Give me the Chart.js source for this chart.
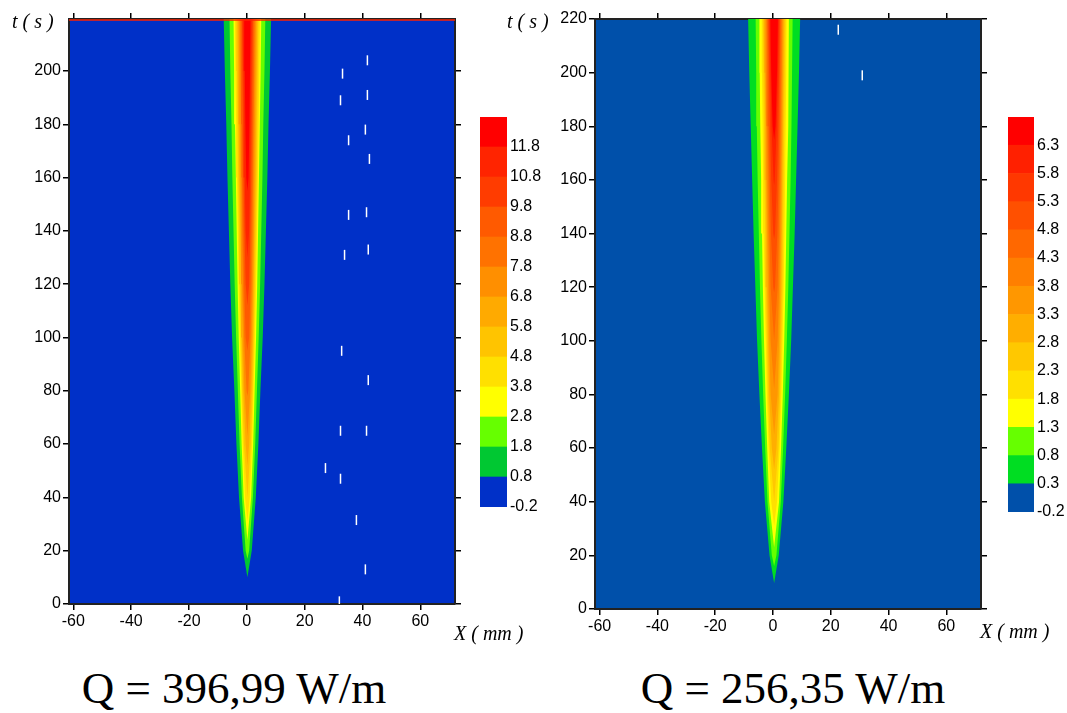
<!DOCTYPE html>
<html>
<head>
<meta charset="utf-8">
<script src="https://cdn.jsdelivr.net/npm/chart.js@4.4.0/dist/chart.umd.min.js"></script>
<style>
  body { margin: 0; background: #fff; }
  #page { position: relative; width: 1067px; height: 713px; overflow: hidden; }
  canvas { position: absolute; }
  .axis-title { position: absolute; font-family: "Liberation Serif", serif; font-style: italic; font-size: 20px; line-height: 20px; white-space: pre; color: #000; }
  .q-label { position: absolute; width: 400px; text-align: center; font-family: "Liberation Serif", serif; font-size: 45px; line-height: 45px; color: #000; white-space: pre; }
</style>
</head>
<body>
<div id="page">
  <canvas id="plotLeft" width="475" height="640" style="left:0;top:0"></canvas>
  <canvas id="barLeft" width="75" height="420" style="left:475px;top:100px"></canvas>
  <canvas id="plotRight" width="476" height="645" style="left:525px;top:0"></canvas>
  <canvas id="barRight" width="64" height="425" style="left:1003px;top:100px"></canvas>

  <div class="axis-title" style="left:12px;top:11px">t ( s )</div>
  <div class="axis-title" style="left:507px;top:11px">t ( s )</div>
  <div class="axis-title" style="left:454px;top:623px">X ( mm )</div>
  <div class="axis-title" style="left:980px;top:621px">X ( mm )</div>

  <div class="q-label" style="left:34px;top:666px">Q = 396,99 W/m</div>
  <div class="q-label" style="left:593px;top:666px">Q = 256,35 W/m</div>
</div>
<script>
// sample times (s) at which contour half-widths were read
const times = [20, 40, 60, 80, 100, 120, 140, 160, 180, 200, 220];
const xTicks = [-60, -40, -20, 0, 20, 40, 60];
const yTicksLeft = [0, 20, 40, 60, 80, 100, 120, 140, 160, 180, 200];
const yTicksRight = [0, 20, 40, 60, 80, 100, 120, 140, 160, 180, 200, 220];

// Q = 396,99 W/m
const levelsLeft = [-0.2, 0.8, 1.8, 2.8, 3.8, 4.8, 5.8, 6.8, 7.8, 8.8, 9.8, 10.8, 11.8, 12.8];
const tipsLeft = [10, 17, 24, 31, 40, 52, 63, 78, 95, 112, 130, 155];
const widthsLeft = [
  [1.5, 2.9, 3.8, 4.5, 5.3, 5.9, 6.4, 6.9, 7.3, 7.8, 8.2],
  [0.6, 1.9, 2.7, 3.3, 3.9, 4.4, 4.8, 5.2, 5.5, 5.9, 6.2],
  [null, 1.3, 2.0, 2.5, 3.0, 3.4, 3.7, 4.0, 4.3, 4.6, 4.8],
  [null, 0.8, 1.6, 2.1, 2.6, 3.0, 3.3, 3.6, 3.9, 4.1, 4.3],
  [null, null, 1.2, 1.8, 2.2, 2.6, 2.9, 3.2, 3.4, 3.6, 3.8],
  [null, null, 0.6, 1.4, 1.9, 2.2, 2.5, 2.8, 3.0, 3.2, 3.4],
  [null, null, null, 1.0, 1.5, 1.9, 2.2, 2.4, 2.6, 2.8, 3.0],
  [null, null, null, 0.3, 1.1, 1.5, 1.8, 2.0, 2.2, 2.4, 2.6],
  [null, null, null, null, 0.6, 1.1, 1.4, 1.7, 1.9, 2.1, 2.2],
  [null, null, null, null, null, 0.6, 1.0, 1.3, 1.5, 1.7, 1.9],
  [null, null, null, null, null, null, 0.6, 0.9, 1.1, 1.3, 1.5],
  [null, null, null, null, null, null, null, 0.4, 0.7, 0.9, 1.1]
];
const centerLeft = 0.2;
const specksLeft = [
  [33.1, 199], [32.4, 189], [41.7, 204], [41.7, 191], [41.0, 178], [35.2, 174],
  [42.4, 167], [35.2, 146], [41.4, 147], [42.0, 133], [33.8, 131], [32.8, 95],
  [42.0, 84], [32.4, 65], [41.4, 65], [27.2, 51], [32.4, 47], [37.9, 31.5],
  [41.0, 13], [32.0, 1]
];

// Q = 256,35 W/m
const levelsRight = [-0.2, 0.3, 0.8, 1.3, 1.8, 2.3, 2.8, 3.3, 3.8, 4.3, 4.8, 5.3, 5.8, 6.3, 6.8];
const tipsRight = [9.7, 16, 23, 31, 40, 52, 65, 82, 100, 118, 138, 158, 175];
const widthsRight = [
  [1.6, 3.2, 4.2, 5.1, 5.9, 6.5, 7.1, 7.6, 8.1, 8.6, 9.0],
  [0.8, 2.3, 3.1, 3.8, 4.4, 4.9, 5.3, 5.7, 6.0, 6.2, 6.4],
  [null, 1.7, 2.4, 3.0, 3.5, 3.9, 4.2, 4.5, 4.8, 5.0, 5.1],
  [null, 1.0, 1.9, 2.5, 2.9, 3.3, 3.6, 3.8, 4.0, 4.2, 4.3],
  [null, null, 1.5, 2.1, 2.5, 2.9, 3.1, 3.3, 3.5, 3.7, 3.9],
  [null, null, 0.8, 1.7, 2.1, 2.5, 2.7, 2.9, 3.1, 3.3, 3.5],
  [null, null, null, 1.2, 1.7, 2.1, 2.4, 2.6, 2.8, 3.0, 3.1],
  [null, null, null, null, 1.2, 1.7, 2.0, 2.3, 2.5, 2.7, 2.8],
  [null, null, null, null, null, 1.2, 1.6, 1.9, 2.2, 2.4, 2.5],
  [null, null, null, null, null, 0.3, 1.1, 1.5, 1.8, 2.0, 2.2],
  [null, null, null, null, null, null, 0.3, 1.0, 1.4, 1.7, 1.9],
  [null, null, null, null, null, null, null, 0.2, 0.9, 1.3, 1.6],
  [null, null, null, null, null, null, null, null, 0.5, 1.0, 1.3]
];
const centerRight = 0.4;
const specksRight = [[22.6, 216], [30.9, 199]];

const paletteLeft = ['#0030c8', '#00c832', '#66ff00', '#ffff00', '#ffe000', '#ffc400', '#ffaa00',
  '#ff8f00', '#ff7200', '#ff5a00', '#ff3c00', '#ff2400', '#ff0000'];
const paletteRight = ['#0050aa', '#00dd22', '#66ff00', '#ffff00', '#ffe000', '#ffc800', '#ffae00',
  '#ff9700', '#ff7f00', '#ff6800', '#ff5000', '#ff3800', '#ff2000', '#ff0000'];

const tickFont = { family: 'Liberation Sans', size: 16 };

// paints the plot area in the lowest band colour
const plotBackground = {
  id: 'plotBackground',
  beforeDraw(chart, args, opts) {
    const { ctx, chartArea: a } = chart;
    ctx.save();
    ctx.fillStyle = opts.color;
    ctx.fillRect(a.left, a.top, a.width, a.height);
    ctx.restore();
  }
};

function contourShape(tip, widths, center) {
  const pts = [{ x: center, y: tip }];
  times.forEach((t, i) => { if (widths[i] != null) pts.push({ x: center - widths[i], y: t }); });
  for (let i = times.length - 1; i >= 0; i--) {
    if (widths[i] != null) pts.push({ x: center + widths[i], y: times[i] });
  }
  return pts;
}

function axis(position, min, max, tickValues, size, showLabels) {
  const horizontal = position === 'top' || position === 'bottom';
  return {
    type: 'linear', position, min, max, z: 1,
    afterBuildTicks: s => { s.ticks = tickValues.map(v => ({ value: v })); },
    afterFit: s => { if (horizontal) s.height = size; else s.width = size; },
    grid: { drawOnChartArea: false, drawTicks: true, tickLength: 6, color: '#000', lineWidth: 1.5 },
    border: { display: true, color: '#222', width: 2 },
    ticks: { display: showLabels, color: '#000', font: tickFont, padding: 2, maxRotation: 0, autoSkip: false }
  };
}

function makePlot(id, o) {
  const datasets = o.widths.map((w, k) => ({
    data: contourShape(o.tips[k], w, o.center),
    showLine: true, fill: 'shape', backgroundColor: o.palette[k + 1],
    borderWidth: 0, pointRadius: 0, order: -k
  }));
  datasets.push({
    data: o.specks.map(([x, y]) => ({ x, y })),
    pointStyle: 'line', rotation: 90, pointRadius: 5, borderColor: '#fff',
    pointBorderWidth: 1.5, order: -50
  });
  if (o.topLine) {
    datasets.push({
      data: [{ x: o.xMin, y: o.yMax - 0.35 }, { x: o.xMax, y: o.yMax - 0.35 }],
      showLine: true, borderColor: o.topLine, borderWidth: 1.5, pointRadius: 0, order: -60
    });
  }
  new Chart(document.getElementById(id), {
    type: 'scatter',
    data: { datasets },
    plugins: [plotBackground],
    options: {
      responsive: false, animation: false, events: [],
      layout: { padding: 0 },
      plugins: { legend: { display: false }, tooltip: { enabled: false }, plotBackground: { color: o.palette[0] } },
      scales: {
        x: axis('bottom', o.xMin, o.xMax, xTicks, o.bottom, true),
        x2: axis('top', o.xMin, o.xMax, xTicks, 19, false),
        y: axis('left', 0, o.yMax, o.yTicks, o.left, true),
        y2: axis('right', 0, o.yMax, o.yTicks, 20, false)
      }
    }
  });
}

function makeColorbar(id, levels, palette, yWidth) {
  const bands = palette.map((c, i) => ({
    data: [[levels[i], levels[i + 1]]], backgroundColor: c,
    grouped: false, barPercentage: 1, categoryPercentage: 1, borderWidth: 0
  }));
  const labelValues = levels.slice(0, -1);
  new Chart(document.getElementById(id), {
    type: 'bar',
    data: { labels: [''], datasets: bands },
    options: {
      responsive: false, animation: false, events: [],
      layout: { padding: { left: 5, top: 17, bottom: 13, right: 0 } },
      plugins: { legend: { display: false }, tooltip: { enabled: false } },
      scales: {
        x: { display: false },
        y: {
          position: 'right', min: levels[0], max: levels[levels.length - 1],
          afterBuildTicks: s => { s.ticks = labelValues.map(v => ({ value: v })); },
          afterFit: s => { s.width = yWidth; },
          grid: { display: false, drawTicks: false }, border: { display: false },
          ticks: { color: '#000', font: tickFont, padding: 3, callback: v => v.toFixed(1) }
        }
      }
    }
  });
}

makePlot('plotLeft', {
  widths: widthsLeft, tips: tipsLeft, center: centerLeft, palette: paletteLeft, specks: specksLeft,
  xMin: -61.5, xMax: 72, yMax: 219.5, yTicks: yTicksLeft, left: 69, bottom: 36, topLine: '#ff2000'
});
makePlot('plotRight', {
  widths: widthsRight, tips: tipsRight, center: centerRight, palette: paletteRight, specks: specksRight,
  xMin: -61.6, xMax: 72, yMax: 220, yTicks: yTicksRight, left: 70, bottom: 36, topLine: null
});
makeColorbar('barLeft', levelsLeft, paletteLeft, 43);
makeColorbar('barRight', levelsRight, paletteRight, 33);
</script>
</body>
</html>
